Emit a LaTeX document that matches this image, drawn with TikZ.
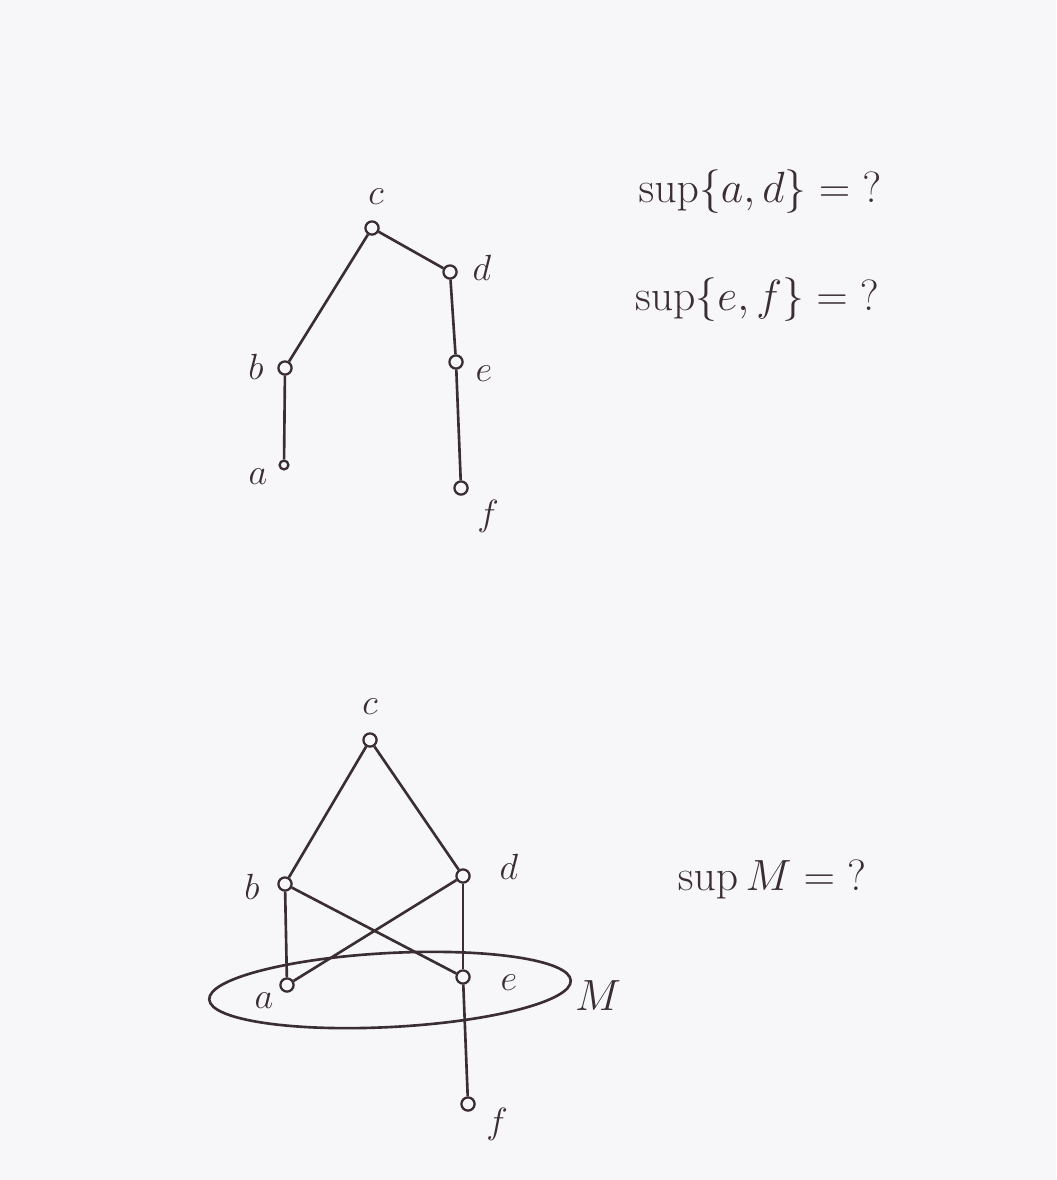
\documentclass[tikz,border=0pt]{standalone}
\definecolor{ink}{RGB}{58,46,50}
\definecolor{paper}{RGB}{247,247,249}
\tikzset{
  vertex/.style={circle, draw=ink, line width=1.3pt, inner sep=0pt, minimum size=7.5pt, fill=paper},
  dot/.style={vertex, minimum size=5pt},
  edge/.style={draw=ink, line width=1.5pt},
  lbl/.style={text=ink, inner sep=0pt, font=\fontsize{20}{24}\selectfont},
  question/.style={text=ink, inner sep=0pt, font=\fontsize{26}{30}\selectfont},
}
\begin{document}
\begin{tikzpicture}[x=0.02cm, y=-0.02cm]
    \fill[paper] (0,0) rectangle (1056,1180);
    \useasboundingbox (0,0) rectangle (1056,1180);

    % upper order
    \node[vertex] (c1) at (372,228) {};
    \node[vertex] (d1) at (450,272) {};
    \node[vertex] (b1) at (285,368) {};
    \node[vertex] (e1) at (456,362) {};
    \node[dot]    (a1) at (284,465) {};
    \node[vertex] (f1) at (461,488) {};
    \draw[edge] (c1) -- (b1);
    \draw[edge] (c1) -- (d1);
    \draw[edge] (d1) -- (e1);
    \draw[edge] (b1) -- (a1);
    \draw[edge] (e1) -- (f1);
    \node[lbl] (lc1) at (376,197) {$c$};
    \node[lbl] (ld1) at (482,268) {$d$};
    \node[lbl] (lb1) at (256,367) {$b$};
    \node[lbl] (le1) at (484,374) {$e$};
    \node[lbl] (la1) at (258,477) {$a$};
    \node[lbl] (lf1) at (488,516) {$f$};

    \node[question] (q1) at (760,192) {$\sup\{a,d\} = {?}$};
    \node[question] (q2) at (757,300) {$\sup\{e,f\} = {?}$};

    % lower order
    \node[vertex] (c2) at (370,740) {};
    \node[vertex] (b2) at (285,884) {};
    \node[vertex] (d2) at (463,876) {};
    \node[vertex] (a2) at (287,985) {};
    \node[vertex] (e2) at (463,977) {};
    \node[vertex] (f2) at (468,1104) {};
    \draw[edge] (c2) -- (b2);
    \draw[edge] (c2) -- (d2);
    \draw[edge] (b2) -- (a2);
    \draw[edge] (d2) -- (e2);
    \draw[edge] (b2) -- (e2);
    \draw[edge] (d2) -- (a2);
    \draw[edge] (e2) -- (f2);
    \draw[edge, rotate around={3:(390,990)}] (390,990) ellipse [x radius=181, y radius=37];
    \node[lbl] (lc2) at (370,707) {$c$};
    \node[lbl] (lb2) at (252,887) {$b$};
    \node[lbl] (ld2) at (509,867) {$d$};
    \node[lbl] (la2) at (264,1001) {$a$};
    \node[lbl] (le2) at (509,983) {$e$};
    \node[lbl] (lf2) at (497,1124) {$f$};
    \node[lbl, font=\fontsize{28}{32}\selectfont] (lM) at (598,996) {$M$};

    \node[question] (q3) at (772,880) {$\sup M = {?}$};
\end{tikzpicture}
\end{document}
